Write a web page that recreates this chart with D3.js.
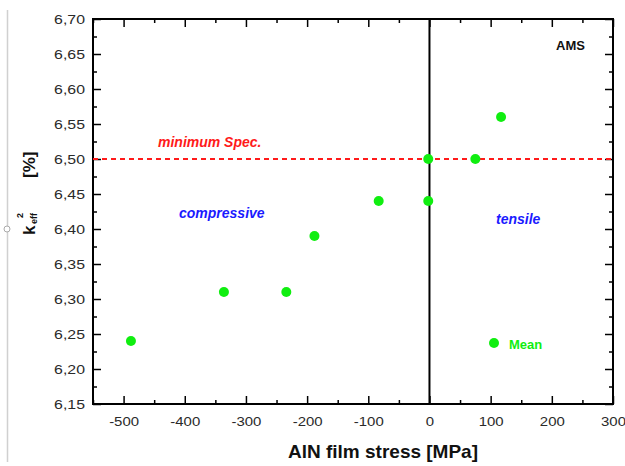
<!DOCTYPE html>
<html>
<head>
<meta charset="utf-8">
<script src="https://cdn.jsdelivr.net/npm/d3@7"></script>
<style>
	body { margin: 0; background: #fff; }
	svg { display: block; font-family: Arial, "Liberation Sans", sans-serif; }
</style>
</head>
<body>
<svg id="chart" width="625" height="466"></svg>
<script>
// AlN film stress [MPa] vs k_eff^2 [%]
const stress = [-488, -336, -234, -188, -83, -2, -2, 75, 117];
const keff = [6.24, 6.31, 6.31, 6.39, 6.44, 6.50, 6.44, 6.50, 6.56];
const xTicks = [-500, -400, -300, -200, -100, 0, 100, 200, 300];
const yTicks = [6.15, 6.20, 6.25, 6.30, 6.35, 6.40, 6.45, 6.50, 6.55, 6.60, 6.65, 6.70];
const minSpec = 6.50;

const w = 625;
const h = 466;
const margin = { top: 19, right: 12, bottom: 62, left: 93 };
const green = '#10ee10';

const svg = d3.select('#chart');

const xScale = d3.scaleLinear()
	.domain([-550, 300])
	.range([margin.left, w - margin.right]);

const yScale = d3.scaleLinear()
	.domain([6.15, 6.70])
	.range([h - margin.bottom, margin.top]);

// selection handles of the pasted picture
svg.append('line')
	.attr('x1', 7.5).attr('x2', 7.5)
	.attr('y1', 10).attr('y2', 462)
	.attr('stroke', '#d0d0d0')
	.attr('stroke-width', 1.5);
svg.append('circle')
	.attr('cx', 7).attr('cy', 229).attr('r', 3)
	.attr('fill', '#fff').attr('stroke', '#aaa');

const fmt = (d) => d3.format('.2f')(d).replace('.', ',');
const minorX = d3.range(-550, 301, 50).filter(v => v % 100 !== 0);
const minorY = d3.range(0, 12).map(i => 6.175 + i * 0.05).filter(v => v < 6.70);

// axes: ticks inward on every side
svg.append('g')
	.attr('id', 'x-axis')
	.attr('transform', 'translate(0,' + (h - margin.bottom) + ')')
	.call(d3.axisBottom(xScale).tickValues(xTicks).tickSizeInner(-8).tickSizeOuter(0).tickPadding(13).tickFormat(d => String(d)))
	.selectAll('text')
	.attr('transform', 'scale(1.15,1)');

svg.append('g')
	.attr('transform', 'translate(0,' + (h - margin.bottom) + ')')
	.call(d3.axisBottom(xScale).tickValues(minorX).tickSize(-4).tickFormat(''));

svg.append('g')
	.attr('transform', 'translate(0,' + margin.top + ')')
	.call(d3.axisTop(xScale).tickValues(xTicks).tickSize(-8).tickFormat(''));

svg.append('g')
	.attr('transform', 'translate(0,' + margin.top + ')')
	.call(d3.axisTop(xScale).tickValues(minorX).tickSize(-4).tickFormat(''));

svg.append('g')
	.attr('id', 'y-axis')
	.attr('transform', 'translate(' + margin.left + ',0)')
	.call(d3.axisLeft(yScale).tickValues(yTicks).tickSizeInner(-8).tickSizeOuter(0).tickFormat(fmt))
	.selectAll('text')
	.attr('x', -8 / 1.22)
	.attr('transform', 'scale(1.22,1)');

svg.append('g')
	.attr('transform', 'translate(' + margin.left + ',0)')
	.call(d3.axisLeft(yScale).tickValues(minorY).tickSize(-4).tickFormat(''));

svg.append('g')
	.attr('transform', 'translate(' + (w - margin.right) + ',0)')
	.call(d3.axisRight(yScale).tickValues(yTicks).tickSize(-8).tickFormat(''));

svg.append('g')
	.attr('transform', 'translate(' + (w - margin.right) + ',0)')
	.call(d3.axisRight(yScale).tickValues(minorY).tickSize(-4).tickFormat(''));

svg.selectAll('.domain').remove();
svg.selectAll('.tick line').attr('stroke', '#000').attr('stroke-width', 1.5);
svg.selectAll('.tick text')
	.attr('fill', '#2a2a2a')
	.style('font-size', '13px')
	.style('font-family', 'Arial, "Liberation Sans", sans-serif');

// plot frame
svg.append('rect')
	.attr('x', margin.left)
	.attr('y', margin.top)
	.attr('width', w - margin.left - margin.right)
	.attr('height', h - margin.top - margin.bottom)
	.attr('fill', 'none')
	.attr('stroke', '#000')
	.attr('stroke-width', 2);

// zero stress line
svg.append('line')
	.attr('x1', xScale(0)).attr('x2', xScale(0))
	.attr('y1', yScale(6.70)).attr('y2', yScale(6.15))
	.attr('stroke', '#000')
	.attr('stroke-width', 2);

// minimum spec line
svg.append('line')
	.attr('x1', xScale(-550)).attr('x2', xScale(300))
	.attr('y1', yScale(minSpec)).attr('y2', yScale(minSpec))
	.attr('stroke', '#ff1a1a')
	.attr('stroke-width', 2)
	.attr('stroke-dasharray', '5,4');

// points
svg.append('g')
	.selectAll('circle')
	.data(stress)
	.enter()
	.append('circle')
	.attr('cx', (d) => xScale(d))
	.attr('cy', (d, i) => yScale(keff[i]))
	.attr('r', 5)
	.attr('fill', green);

// annotations
const label = (txt, x, y, color, size, italic) => svg.append('text')
	.attr('x', x)
	.attr('y', y)
	.attr('fill', color)
	.style('font-size', size + 'px')
	.style('font-weight', 'bold')
	.style('font-style', italic ? 'italic' : 'normal')
	.text(txt);

label('minimum Spec.', 158, 147, '#ff1a1a', 14, true);
label('compressive', 179, 218, '#1a1aff', 14, true);
label('tensile', 496, 224, '#1a1aff', 14, true);
label('AMS', 556, 50, '#111', 13, false);

// legend
svg.append('circle')
	.attr('cx', 494)
	.attr('cy', 343)
	.attr('r', 5)
	.attr('fill', green);
label('Mean', 509, 349, green, 13, false);

// axis titles
svg.append('text')
	.attr('x', 383)
	.attr('y', 458)
	.attr('text-anchor', 'middle')
	.attr('fill', '#111')
	.style('font-size', '19px')
	.style('font-weight', 'bold')
	.text('AlN film stress [MPa]');

const yTitle = svg.append('text')
	.attr('transform', 'translate(35,235) rotate(-90)')
	.attr('fill', '#111')
	.style('font-weight', 'bold');
yTitle.append('tspan').attr('x', 0).style('font-size', '17px').text('k');
yTitle.append('tspan').attr('x', 11).attr('dy', 2).style('font-size', '9px').text('eff');
yTitle.append('tspan').attr('x', 17).attr('dy', -14).style('font-size', '9px').text('2');
yTitle.append('tspan').attr('x', 57).attr('dy', 12).style('font-size', '17px').text('[%]');
</script>
</body>
</html>
